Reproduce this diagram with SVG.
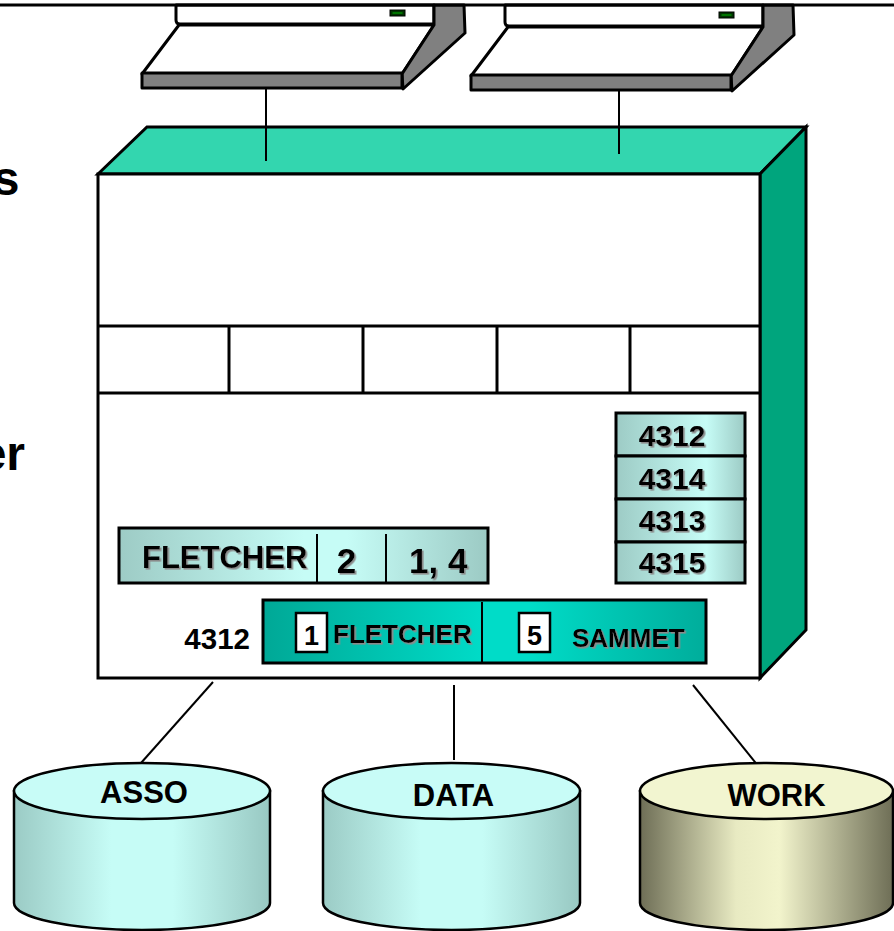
<svg xmlns="http://www.w3.org/2000/svg" width="894" height="931" viewBox="0 0 894 931">
  <style>
    .ln { stroke: #000; fill: none; }
    .edge { stroke: #000; stroke-width: 3; stroke-linejoin: miter; }
    .grey { fill: #808080; stroke: #000; stroke-width: 3; stroke-linejoin: round; }
    .white { fill: #fff; stroke: #000; stroke-width: 3; stroke-linejoin: round; }
    .t { font-family: "Liberation Sans", Arial, sans-serif; font-weight: bold; fill: #000; }
    .sh { filter: url(#shadow); }
    .cyl { stroke: #000; stroke-width: 2.5; }
  </style>
  <defs>
    <filter id="shadow" x="-10%" y="-20%" width="130%" height="150%">
      <feDropShadow dx="1.6" dy="1.6" stdDeviation="0.4" flood-color="#8a8a8a" flood-opacity="1"/>
    </filter>
    <linearGradient id="pale" x1="0" y1="0" x2="1" y2="0">
      <stop offset="0" stop-color="#9DCBC5"/>
      <stop offset="0.5" stop-color="#C6FCF6"/>
      <stop offset="0.62" stop-color="#C6FCF6"/>
      <stop offset="1" stop-color="#9CCAC4"/>
    </linearGradient>
    <linearGradient id="paleList" x1="0" y1="0" x2="1" y2="0">
      <stop offset="0" stop-color="#9DCBC5"/>
      <stop offset="0.7" stop-color="#C6FCF6"/>
      <stop offset="1" stop-color="#9CCAC4"/>
    </linearGradient>
    <linearGradient id="cylPale" x1="0" y1="0" x2="1" y2="0">
      <stop offset="0" stop-color="#9BCBC5"/>
      <stop offset="0.38" stop-color="#C6FCF6"/>
      <stop offset="0.62" stop-color="#C6FCF6"/>
      <stop offset="1" stop-color="#98C8C2"/>
    </linearGradient>
    <linearGradient id="cylOlive" x1="0" y1="0" x2="1" y2="0">
      <stop offset="0" stop-color="#6E6E56"/>
      <stop offset="0.38" stop-color="#E8EAC2"/>
      <stop offset="0.55" stop-color="#F2F4CC"/>
      <stop offset="1" stop-color="#6E6E56"/>
    </linearGradient>
    <linearGradient id="teal" x1="0" y1="0" x2="1" y2="0">
      <stop offset="0" stop-color="#00A896"/>
      <stop offset="0.5" stop-color="#00DCC8"/>
      <stop offset="0.6" stop-color="#00DCC8"/>
      <stop offset="1" stop-color="#00AD9B"/>
    </linearGradient>
  </defs>

  <rect width="894" height="931" fill="#fff"/>

  <!-- cut-off title letters at the left margin -->
  <text class="t" x="19.5" y="195" font-size="48" text-anchor="end">s</text>
  <text class="t" x="25" y="470" font-size="48" text-anchor="end">er</text>

  <!-- connectors -->
  <g id="connectors" class="ln" stroke-width="2">
    <line x1="266" y1="88" x2="266" y2="161"/>
    <line x1="619" y1="91" x2="619" y2="154"/>
    <line x1="213" y1="682" x2="141" y2="763"/>
    <line x1="454" y1="685" x2="454" y2="760"/>
    <line x1="693" y1="685" x2="759" y2="767"/>
  </g>

  <!-- terminal 1 -->
  <g id="terminal1">
    <path class="white" d="M176,5 V20 Q176,24 180,24 H434 V5 Z"/>
    <rect x="390" y="10" width="15" height="6" fill="#003300" stroke="#000" stroke-width="1"/>
    <line x1="392.5" y1="13" x2="402.5" y2="13" stroke="#00A000" stroke-width="1.2"/>
    <polygon class="white" points="179,25 434,25 402,74 142,74"/>
    <polygon class="grey" points="434,5 434,25 402,74 403,89 465,33 464,5"/>
    <rect class="grey" x="142" y="73" width="260" height="15"/>
  </g>

  <!-- terminal 2 -->
  <g id="terminal2" transform="translate(329,2)">
    <path class="white" d="M176,3 V20 Q176,24 180,24 H434 V3 Z"/>
    <rect x="390" y="10" width="15" height="6" fill="#003300" stroke="#000" stroke-width="1"/>
    <line x1="392.5" y1="13" x2="402.5" y2="13" stroke="#00A000" stroke-width="1.2"/>
    <polygon class="white" points="179,25 434,25 402,74 142,74"/>
    <polygon class="grey" points="434,3 434,25 402,74 403,89 465,33 464,3"/>
    <rect class="grey" x="142" y="73" width="260" height="15"/>
  </g>

  <!-- border line across the top -->
  <line x1="0" y1="5" x2="894" y2="5" stroke="#000" stroke-width="3"/>

  <!-- central processor box -->
  <g id="processor">
    <polygon class="edge" fill="#33D6AF" points="98,174 147,127 806,127 760,174"/>
    <line x1="266" y1="127" x2="266" y2="161" stroke="#000" stroke-width="2"/>
    <line x1="619" y1="127" x2="619" y2="154" stroke="#000" stroke-width="2"/>
    <polygon class="edge" fill="#00A57D" points="760,174 806,127 806,630 760,678"/>
    <rect class="edge" fill="#fff" x="98" y="174" width="662" height="504"/>
    <line class="ln" stroke-width="3" x1="98" y1="326" x2="760" y2="326"/>
    <line class="ln" stroke-width="3" x1="98" y1="393" x2="760" y2="393"/>
    <line class="ln" stroke-width="3" x1="229" y1="326" x2="229" y2="393"/>
    <line class="ln" stroke-width="3" x1="363" y1="326" x2="363" y2="393"/>
    <line class="ln" stroke-width="3" x1="497" y1="326" x2="497" y2="393"/>
    <line class="ln" stroke-width="3" x1="630" y1="326" x2="630" y2="393"/>
  </g>

  <!-- index list -->
  <g id="index-list">
    <rect x="616" y="413" width="129" height="43" fill="url(#paleList)" stroke="#000" stroke-width="3"/>
    <rect x="616" y="456" width="129" height="43" fill="url(#paleList)" stroke="#000" stroke-width="3"/>
    <rect x="616" y="499" width="129" height="43" fill="url(#paleList)" stroke="#000" stroke-width="3"/>
    <rect x="616" y="542" width="129" height="41" fill="url(#paleList)" stroke="#000" stroke-width="3"/>
    <text class="t sh" x="672" y="446" font-size="30" text-anchor="middle">4312</text>
    <text class="t sh" x="672" y="489" font-size="30" text-anchor="middle">4314</text>
    <text class="t sh" x="672" y="531" font-size="30" text-anchor="middle">4313</text>
    <text class="t sh" x="672" y="573" font-size="30" text-anchor="middle">4315</text>
  </g>

  <!-- inverted list entry -->
  <g id="fletcher-entry">
    <rect x="119" y="528" width="369" height="55" fill="url(#pale)" stroke="#000" stroke-width="3"/>
    <line class="ln" stroke-width="2" x1="317" y1="534" x2="317" y2="582"/>
    <line class="ln" stroke-width="2" x1="386" y1="534" x2="386" y2="582"/>
    <text class="t sh" x="142" y="568" font-size="31">FLETCHER</text>
    <text class="t sh" x="346.5" y="573" font-size="35" text-anchor="middle">2</text>
    <text class="t sh" x="409" y="573" font-size="35">1, 4</text>
  </g>

  <!-- data record 4312 -->
  <g id="record-4312">
    <text class="t" x="250" y="649" font-size="29.5" text-anchor="end">4312</text>
    <rect x="263" y="600" width="443" height="63" fill="url(#teal)" stroke="#000" stroke-width="3"/>
    <line class="ln" stroke-width="2" x1="482" y1="602" x2="482" y2="662"/>
    <rect x="296" y="613" width="31" height="39" fill="#fff" stroke="#000" stroke-width="2.5"/>
    <text class="t" x="311.5" y="645" font-size="27" text-anchor="middle">1</text>
    <text class="t sh" x="333" y="643" font-size="26">FLETCHER</text>
    <rect x="519" y="613" width="31" height="39" fill="#fff" stroke="#000" stroke-width="2.5"/>
    <text class="t" x="534.5" y="645" font-size="27" text-anchor="middle">5</text>
    <text class="t sh" x="572" y="647" font-size="26">SAMMET</text>
  </g>

  <!-- ASSO disk -->
  <g id="asso">
    <path class="cyl" fill="url(#cylPale)" d="M14,791 V903 A128,27 0 0 0 270,903 V791 Z"/>
    <ellipse class="cyl" cx="142" cy="791" rx="128" ry="28" fill="#C8FCF7"/>
    <text class="t" x="144" y="803" font-size="31" text-anchor="middle">ASSO</text>
  </g>

  <!-- DATA disk -->
  <g id="data">
    <path class="cyl" fill="url(#cylPale)" d="M323,791 V903 A128.5,27 0 0 0 580,903 V791 Z"/>
    <ellipse class="cyl" cx="451.5" cy="791" rx="128.5" ry="28" fill="#C8FCF7"/>
    <text class="t" x="453.5" y="806" font-size="31" text-anchor="middle">DATA</text>
  </g>

  <!-- WORK disk -->
  <g id="work">
    <path class="cyl" fill="url(#cylOlive)" d="M640,791 V903 A126.5,27 0 0 0 893,903 V791 Z"/>
    <ellipse class="cyl" cx="766.5" cy="791" rx="126.5" ry="28" fill="#F2F5D0"/>
    <text class="t" x="776.5" y="806" font-size="31" text-anchor="middle">WORK</text>
  </g>
</svg>
